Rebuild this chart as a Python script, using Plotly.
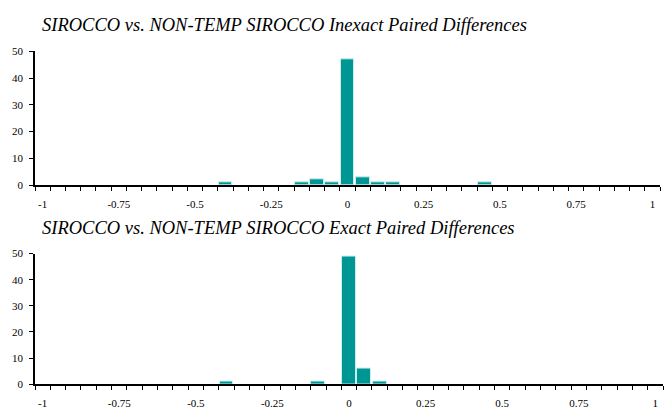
import plotly.graph_objects as go

# Data (bin centres of width 0.05 and their counts)
inexact_bins = [-0.4, -0.15, -0.1, -0.05, 0, 0.05, 0.1, 0.15, 0.45]
inexact_counts = [1, 1, 2, 1, 47, 3, 1, 1, 1]
exact_bins = [-0.4, -0.1, 0, 0.05, 0.1]
exact_counts = [1, 1, 49, 6, 1]

tick_vals = [-1, -0.75, -0.5, -0.25, 0, 0.25, 0.5, 0.75, 1]
tick_text = ["-1", "-0.75", "-0.5", "-0.25", "0", "0.25", "0.5", "0.75", "1"]
y_ticks = [0, 10, 20, 30, 40, 50]

title_top = "SIROCCO vs. NON-TEMP SIROCCO Inexact Paired Differences"
title_bottom = "SIROCCO vs. NON-TEMP SIROCCO Exact Paired Differences"

BAR = "#009694"
EDGE = "#c8eeee"
W, H = 670, 411

fig = go.Figure()
fig.add_trace(go.Bar(x=inexact_bins, y=inexact_counts, width=0.045,
                     marker=dict(color=BAR, line=dict(color=EDGE, width=1)),
                     xaxis="x", yaxis="y", showlegend=False))
fig.add_trace(go.Bar(x=exact_bins, y=exact_counts, width=0.045,
                     marker=dict(color=BAR, line=dict(color=EDGE, width=1)),
                     xaxis="x2", yaxis="y2", showlegend=False))

font_ax = dict(family="Liberation Serif", size=11, color="black")

def xax(domain, anchor):
    return dict(domain=domain, anchor=anchor, range=[-1.025, 1.025],
                tickvals=tick_vals, ticktext=tick_text, ticks="",
                showgrid=False, zeroline=False, showline=True,
                linecolor="black", linewidth=1.5, tickfont=font_ax,
                ticklabelstandoff=8,
                minor=dict(tick0=-1.025, dtick=0.05, ticks="outside",
                           ticklen=4, tickcolor="black", tickwidth=1,
                           showgrid=False))

def yax(domain, anchor):
    return dict(domain=domain, anchor=anchor, range=[0, 50],
                tickvals=y_ticks, ticks="outside", ticklen=4,
                tickcolor="black", showgrid=False, zeroline=False,
                showline=True, linecolor="black", linewidth=1.5,
                tickfont=font_ax, ticklabelstandoff=4)

fig.update_layout(
    width=W, height=H,
    margin=dict(l=0, r=0, t=0, b=0),
    paper_bgcolor="white", plot_bgcolor="white",
    bargap=0,
    xaxis=xax([35 / W, 660 / W], "y"),
    yaxis=yax([(H - 184.5) / H, (H - 46.7) / H], "x"),
    xaxis2=xax([35 / W, 663 / W], "y2"),
    yaxis2=yax([(H - 389.5) / H, (H - 255) / H], "x2"),
)

title_font = dict(family="Liberation Serif", size=18.5, color="black")
fig.add_annotation(text="<i>" + title_top + "</i>", xref="paper", yref="paper",
                   x=40 / W, y=(H - 20) / H, xanchor="left", yanchor="middle",
                   showarrow=False, font=title_font)
fig.add_annotation(text="<i>" + title_bottom + "</i>", xref="paper", yref="paper",
                   x=40 / W, y=(H - 229) / H, xanchor="left", yanchor="middle",
                   showarrow=False, font=title_font)

fig.write_html("out.html", config={"displayModeBar": False},
               post_script="document.body.style.margin='0';")
